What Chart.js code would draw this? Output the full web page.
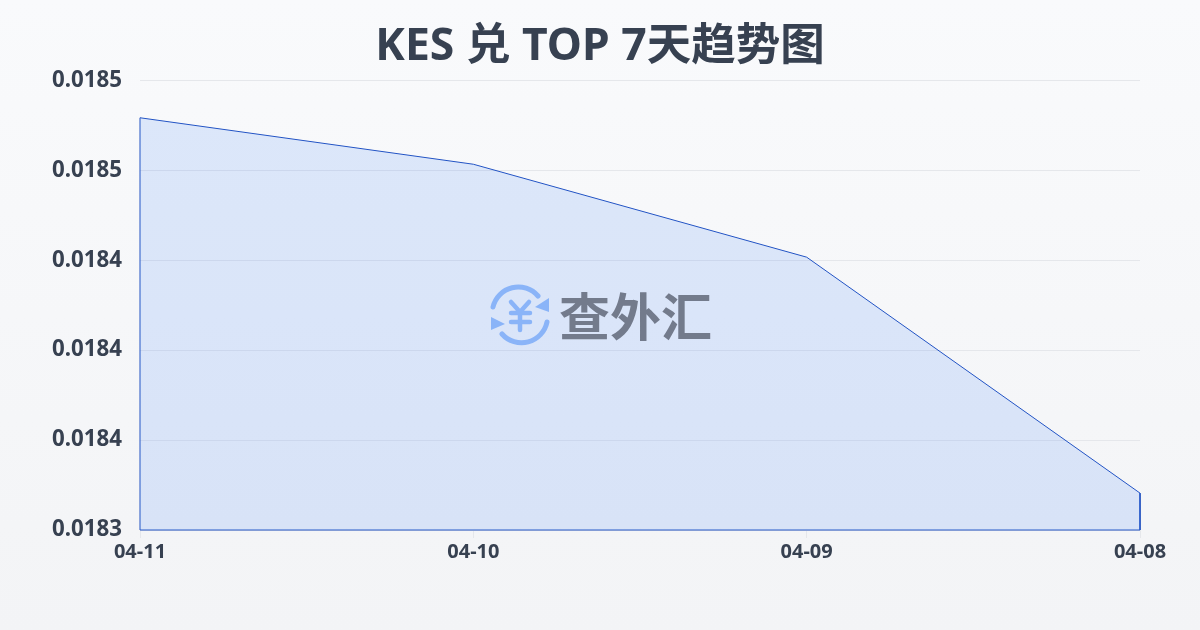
<!DOCTYPE html>
<html lang="zh">
<head>
<meta charset="utf-8">
<title>KES 兑 TOP 7天趋势图</title>
<script src="https://cdn.jsdelivr.net/npm/chart.js@4/dist/chart.umd.js"></script>
<style>
  html, body { margin: 0; padding: 0; }
  body {
    width: 1200px; height: 630px; overflow: hidden; position: relative;
    background: linear-gradient(180deg, #f9fafc 0%, #f3f4f6 100%);
  }
  #trendChart { position: absolute; left: 0; top: 0; }
  .mark { position: absolute; left: 488px; top: 284px; width: 64px; height: 62px; }
  .mark-text {
    position: absolute; left: 559px; top: 278px;
    font: 700 51px/72px "Noto Sans CJK SC", sans-serif;
    color: #737b8c; white-space: nowrap;
  }
</style>
</head>
<body>
<canvas id="trendChart" width="1200" height="630"></canvas>
<svg class="mark" viewBox="0 0 64 62" fill="none" stroke="#8ab4f8" stroke-linecap="round">
  <path d="M5 23 A26 26 0 0 1 50 12" stroke-width="5"/>
  <path d="M59 38 A26 26 0 0 1 14 50" stroke-width="5"/>
  <path d="M61 14 L61 28 L47 23 Z" fill="#8ab4f8" stroke="none"/>
  <path d="M3 33 L3 46 L17 40 Z" fill="#8ab4f8" stroke="none"/>
  <path d="M23 18 L32 28 L41 18 M23 29 H42 M23 38 H42 M32 28 V46" stroke-width="4.5"/>
</svg>
<div class="mark-text">查外汇</div>
<script>
const labels = ['04-11', '04-10', '04-09', '04-08'];
const rates = [0.0184775, 0.018462, 0.018431, 0.0183523];
const axisMin = 0.01834;
const axisMax = 0.01849;
const titleText = 'KES 兑 TOP 7天趋势图';

const fontFamily = '"Noto Sans", "Noto Sans CJK SC", sans-serif';
const textColor = '#374151';

// closed outline: the reference strokes the sides and the base of the area too
const outline = [{ x: labels[0], y: axisMin }]
  .concat(labels.map((l, i) => ({ x: l, y: rates[i] })))
  .concat([{ x: labels[labels.length - 1], y: axisMin }, { x: labels[0], y: axisMin }]);

new Chart(document.getElementById('trendChart'), {
  type: 'line',
  data: {
    labels: labels,
    datasets: [{
      label: 'KES/TOP',
      data: rates,
      borderWidth: 0,
      backgroundColor: 'rgba(59,130,246,0.15)',
      fill: 'start',
      tension: 0,
      pointRadius: 0
    }, {
      label: 'outline',
      data: outline,
      borderColor: '#2050c0',
      borderWidth: 1,
      fill: false,
      tension: 0,
      pointRadius: 0,
      clip: false
    }]
  },
  options: {
    responsive: false,
    animation: false,
    plugins: {
      legend: { display: false },
      tooltip: { enabled: false },
      title: {
        display: true,
        text: titleText,
        color: textColor,
        font: { family: fontFamily, size: 44.5, weight: '700', lineHeight: 1.2 },
        padding: { top: 21, bottom: 5.9 }
      }
    },
    scales: {
      x: {
        offset: false,
        afterFit: s => { s.height = 100; },
        grid: { drawOnChartArea: false, drawTicks: true, tickLength: 8, color: '#e5e7eb' },
        border: { display: false },
        ticks: {
          color: textColor, padding: 2, maxRotation: 0, autoSkip: false,
          font: { family: fontFamily, size: 20, weight: '700' }
        }
      },
      y: {
        min: axisMin,
        max: axisMax,
        afterFit: s => { s.width = 140; },
        grid: { drawTicks: false, color: '#e5e7eb', lineWidth: 1 },
        border: { display: false },
        ticks: {
          count: 6,
          color: textColor, padding: 18,
          font: { family: fontFamily, size: 22.3, weight: '700' },
          callback: v => Number(v).toFixed(4)
        }
      },
      // empty right gutter so the title stays centred on the page
      gutter: {
        type: 'linear',
        position: 'right',
        afterFit: s => { s.width = 60; },
        grid: { display: false },
        border: { display: false },
        ticks: { display: false }
      }
    }
  }
});
</script>
</body>
</html>
